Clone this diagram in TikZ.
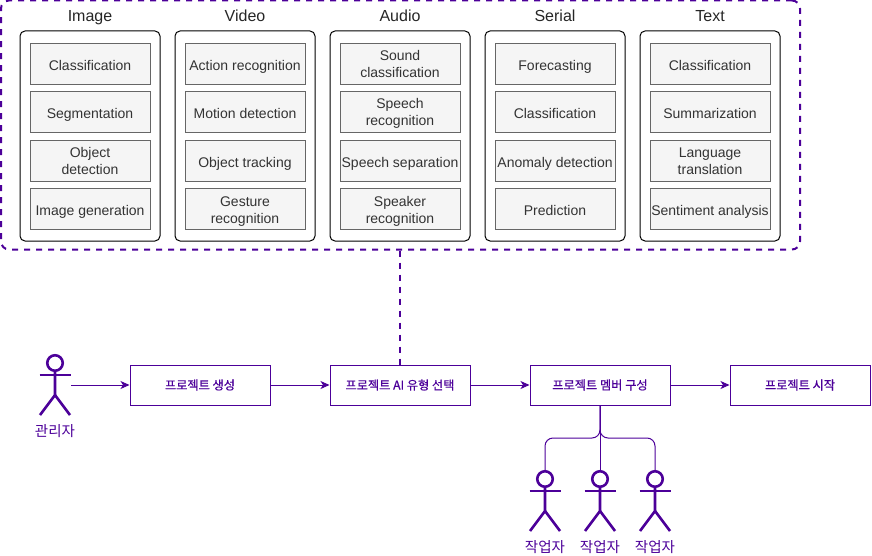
\documentclass[tikz,border=0pt]{standalone}
\usepackage{fontspec}
\setmainfont{Liberation Sans}
\newfontfamily\korfont{Noto Sans CJK KR}
\newfontfamily\korstage[FakeBold=0.7]{Noto Sans CJK KR}
\usetikzlibrary{arrows.meta, positioning}
\definecolor{violetline}{HTML}{4C0099}
\definecolor{taskfill}{HTML}{F5F5F5}
\definecolor{taskline}{HTML}{666666}
\definecolor{tasktext}{HTML}{333333}
\tikzset{
    group/.style={rectangle, draw, rounded corners=8pt, violetline, line width=2pt, dash pattern=on 6pt off 6pt, minimum width=799pt, minimum height=249pt},
    panel/.style={rectangle, draw=black, rounded corners=5pt, line width=1pt, minimum width=140pt, minimum height=210pt},
    task/.style={rectangle, draw=taskline, fill=taskfill, text=tasktext, align=center, line width=1pt, minimum width=120pt, minimum height=41pt, inner sep=0pt, font=\fontsize{14}{17}\selectfont, text height=16pt, text depth=3pt},
    pair/.style={task, text height=30pt, text depth=2pt},
    title/.style={inner sep=0pt, text=black!85, font=\fontsize{16}{18}\selectfont, text height=14pt, text depth=2pt},
    stage/.style={rectangle, draw=violetline, text=violetline, line width=1pt, minimum width=140pt, minimum height=40pt, inner sep=0pt, font=\korstage\fontsize{12.2}{14}\selectfont},
    role/.style={inner sep=0pt, text=violetline, font=\korfont\fontsize{14.5}{16}\selectfont},
    link/.style={violetline, line width=1pt, -{Stealth[length=9pt, width=8pt, inset=2.5pt]}},
    plain/.style={violetline, line width=1pt},
    actor/.pic={
        \node[circle, draw=violetline, line width=2.6pt, minimum size=15.5pt, inner sep=0pt] (-head) at (0,0) {};
        \coordinate (-east) at (16,22);
        \draw[violetline, line width=2.6pt] (-head.south) -- (0,32) -- (-15,52);
        \draw[violetline, line width=2.6pt] (0,32) -- (15,52);
        \draw[violetline, line width=2.6pt] (-15.5,12) -- (15.5,12);
    }
}
\begin{document}
\begin{tikzpicture}[x=1pt, y=-1pt]
    \useasboundingbox (0,0) rectangle (872,556);

    % top group
    \node[group] (G) at (400.5,125) {};
    \foreach \name/\px in {image/90, video/245, audio/400, serial/555, text/710} {
        \node[panel] (\name) at (\px,136) {};
    }
    \node[title] (Timage) at (90,16) {Image};
    \node[title] (Tvideo) at (245,16) {Video};
    \node[title] (Taudio) at (400,16) {Audio};
    \node[title] (Tserial) at (555,16) {Serial};
    \node[title] (Ttext) at (710,16) {Text};

    \node[task] (I1) at (90,64) {Classification};
    \node[task] (I2) at (90,112) {Segmentation};
    \node[pair] (I3) at (90,161) {Object\\detection};
    \node[task] (I4) at (90,209) {Image generation};

    \node[task] (V1) at (245,64) {Action recognition};
    \node[task] (V2) at (245,112) {Motion detection};
    \node[task] (V3) at (245,161) {Object tracking};
    \node[pair] (V4) at (245,209) {Gesture\\recognition};

    \node[pair] (A1) at (400,64) {Sound\\classification};
    \node[pair] (A2) at (400,112) {Speech\\recognition};
    \node[task] (A3) at (400,161) {Speech separation};
    \node[pair] (A4) at (400,209) {Speaker\\recognition};

    \node[task] (S1) at (555,64) {Forecasting};
    \node[task] (S2) at (555,112) {Classification};
    \node[task] (S3) at (555,161) {Anomaly detection};
    \node[task] (S4) at (555,209) {Prediction};

    \node[task] (T1) at (710,64) {Classification};
    \node[task] (T2) at (710,112) {Summarization};
    \node[pair] (T3) at (710,161) {Language\\translation};
    \node[task] (T4) at (710,209) {Sentiment analysis};

    % project flow
    \node[stage] (create) at (200,385) {프로젝트 생성};
    \node[stage] (select) at (400,385) {프로젝트 AI 유형 선택};
    \node[stage] (member) at (600,385) {프로젝트 멤버 구성};
    \node[stage] (start) at (800,385) {프로젝트 시작};

    \pic (admin) at (55,363) {actor};
    \node[role] (Ladmin) at (55,431) {관리자};
    \pic (w1) at (545,479) {actor};
    \pic (w2) at (600,479) {actor};
    \pic (w3) at (655,479) {actor};
    \node[role] (Lw1) at (545,547) {작업자};
    \node[role] (Lw2) at (600,547) {작업자};
    \node[role] (Lw3) at (655,547) {작업자};
    \coordinate (fork) at (600,438);

    \draw[link] (admin-east) -- (create);
    \draw[link] (create) -- (select);
    \draw[link] (select) -- (member);
    \draw[link] (member) -- (start);
    \draw[violetline, line width=2pt, dash pattern=on 6pt off 6pt] (G.south -| select) -- (select);
    \draw[plain] (member) -- (w2-head);
    \draw[plain, rounded corners=8pt] (w1-head.north) |- (fork) [rounded corners=3pt] -- (member.south);
    \draw[plain, rounded corners=8pt] (w3-head.north) |- (fork) [rounded corners=3pt] -- (member.south);
\end{tikzpicture}
\end{document}
